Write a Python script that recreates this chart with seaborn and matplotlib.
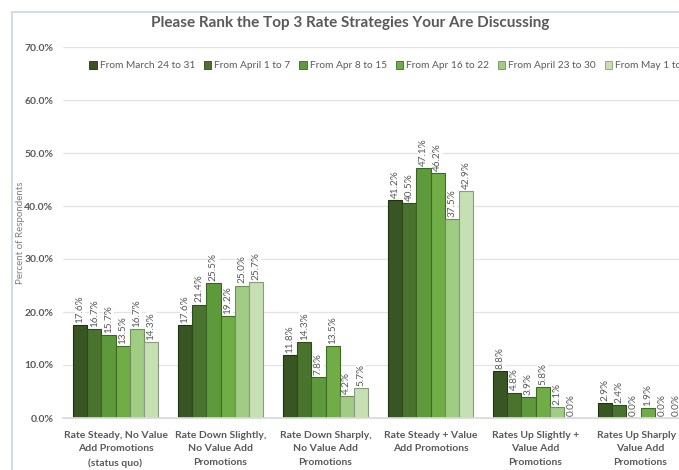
import matplotlib
matplotlib.use("Agg")
import matplotlib.pyplot as plt
import matplotlib.patches as mpatches
from matplotlib.ticker import FuncFormatter, MultipleLocator
import seaborn as sns
import pandas as pd

categories = [
    "Rate Steady, No Value\nAdd Promotions\n(status quo)",
    "Rate Down Slightly,\nNo Value Add\nPromotions",
    "Rate Down Sharply,\nNo Value Add\nPromotions",
    "Rate Steady + Value\nAdd Promotions",
    "Rates Up Slightly +\nValue Add\nPromotions",
    "Rates Up Sharply +\nValue Add\nPromotions",
]
periods = [
    "From March 24 to 31",
    "From April 1 to 7",
    "From Apr 8 to 15",
    "From Apr 16 to 22",
    "From April 23 to 30",
    "From May 1 to 7",
]
march_24_31 = [17.6, 17.6, 11.8, 41.2, 8.8, 2.9]
april_1_7 = [16.7, 21.4, 14.3, 40.5, 4.8, 2.4]
apr_8_15 = [15.7, 25.5, 7.8, 47.1, 3.9, 0.0]
apr_16_22 = [13.5, 19.2, 13.5, 46.2, 5.8, 1.9]
april_23_30 = [16.7, 25.0, 4.2, 37.5, 2.1, 0.0]
may_1_7 = [14.3, 25.7, 5.7, 42.9, 0.0, 0.0]
series = [march_24_31, april_1_7, apr_8_15, apr_16_22, april_23_30, may_1_7]

colors = ["#375623", "#4a742d", "#5e9a3b", "#70ad47", "#a0cc84", "#c6e0b4"]
edges = ["#1f3312", "#2c4a1a", "#3a6424", "#3f6a25", "#6d8f5a", "#8a9a80"]

rows = []
for p, vals in zip(periods, series):
    for c, v in zip(categories, vals):
        rows.append({"Strategy": c, "Period": p, "Percent": v})
df = pd.DataFrame(rows)

sns.set_theme(style="white")
plt.rcParams["font.family"] = ["Lato", "DejaVu Sans"]

fig = plt.figure(figsize=(6.79, 4.70), dpi=100)
# Axes run a little past the right edge of the canvas
ax = fig.add_axes([63 / 679, 52 / 470, 630 / 679, 371 / 470])

sns.barplot(
    data=df, x="Strategy", y="Percent", hue="Period",
    palette=colors, width=0.81, gap=0, ax=ax, errorbar=None,
    linewidth=0.8, saturation=1,
)

# per-series outlines
for i, cont in enumerate(ax.containers):
    for bar in cont:
        bar.set_edgecolor(edges[i])
        bar.set_linewidth(0.8)

text_gray = "#595959"
for cont in ax.containers:
    labels = [f"{b.get_height():.1f}%" for b in cont]
    ax.bar_label(
        cont, labels=labels, rotation=90, padding=1.5, fontsize=7.2,
        color=text_gray,
        bbox=dict(facecolor="white", edgecolor="none", pad=0.4),
    )

ax.set_ylim(0, 70)
ax.yaxis.set_major_locator(MultipleLocator(10))
ax.yaxis.set_major_formatter(FuncFormatter(lambda v, _: f"{v:.1f}%"))
ax.grid(axis="y", color="#e3e3e3", linewidth=0.9)
ax.set_axisbelow(True)
for s in ["top", "right", "left"]:
    ax.spines[s].set_visible(False)
ax.spines["bottom"].set_color("#d9d9d9")
ax.tick_params(axis="both", length=0)
ax.tick_params(axis="y", pad=7)
ax.tick_params(axis="x", pad=9)
for t in ax.get_yticklabels():
    t.set_fontsize(7.5)
    t.set_fontweight("bold")
    t.set_color(text_gray)
for t in ax.get_xticklabels():
    t.set_fontsize(7.5)
    t.set_fontweight("bold")
    t.set_color(text_gray)
    t.set_linespacing(1.7)
ax.set_xlabel("")
ax.set_ylabel("Percent of Respondents", fontsize=7, color="#7f7f7f")
ax.yaxis.set_label_coords(-0.06, 0.5)

ax.legend(
    loc="upper left", bbox_to_anchor=(80 / 679, 1 - 52 / 470),
    bbox_transform=fig.transFigure, ncol=6, frameon=False,
    fontsize=7.3, handlelength=0.75, handleheight=0.75,
    handletextpad=0.3, columnspacing=0.85, labelcolor=text_gray,
)
leg = ax.get_legend()
for h, e in zip(leg.legend_handles, edges):
    h.set_edgecolor(e)
    h.set_linewidth(0.6)

fig.text(350 / 679, 1 - 23 / 470,
         "Please Rank the Top 3 Rate Strategies Your Are Discussing",
         ha="center", va="center", fontsize=11, fontweight="bold",
         color=text_gray)

# chart area frame
fig.patches.append(mpatches.Rectangle(
    (12 / 679, -0.1), 1.2, 1 - 12 / 470 + 0.1,
    transform=fig.transFigure, fill=False, edgecolor="#c9d6ea",
    linewidth=1.2, zorder=0))

fig.savefig("out.png", dpi=100)
